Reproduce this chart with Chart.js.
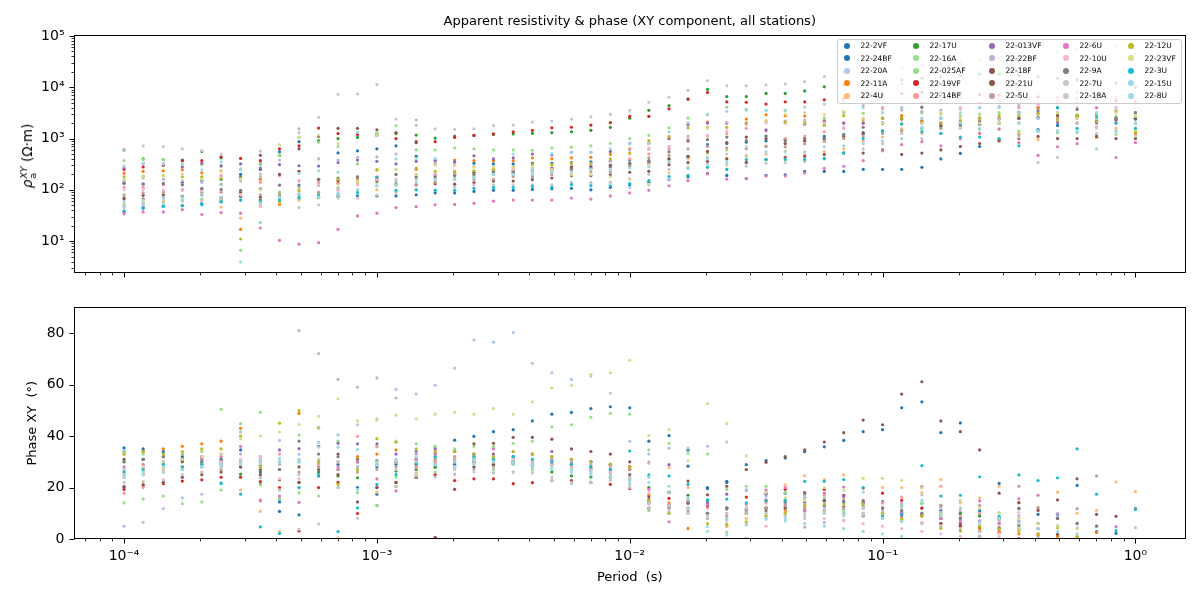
<!DOCTYPE html>
<html>
<head>
<meta charset="utf-8">
<script src="https://cdn.jsdelivr.net/npm/chart.js@4.4.1/dist/chart.umd.min.js"></script>
<style>
  html, body { margin: 0; padding: 0; background: #fff; }
  #wrap { position: relative; width: 1200px; height: 600px; font-family: "DejaVu Sans", sans-serif; color: #000; }
  canvas { position: absolute; left: 0; }
  #title { position: absolute; left: 73.5px; width: 1112.5px; top: 13px; text-align: center; font-size: 13px; line-height: 16px; }
  #rhoLabel { position: absolute; left: 28px; top: 156px; transform: translate(-50%, -50%) rotate(-90deg); white-space: nowrap; font-size: 13.5px; }
  #rhoLabel .ss { display: inline-block; vertical-align: middle; line-height: 9px; font-size: 9.5px; margin-left: 1px; }
  #rhoLabel .ss span { display: block; }
  #legend { position: absolute; left: 836.5px; top: 38.5px; width: 345px; height: 65px; box-sizing: border-box;
            border: 1px solid #cccccc; border-radius: 3px; background: rgba(255,255,255,0.8); font-size: 7.5px; }
  .item { position: absolute; white-space: nowrap; line-height: 9px; }
  .dot { position: absolute; width: 6px; height: 6px; border-radius: 50%; }
</style>
</head>
<body>
<div id="wrap">
  <canvas id="rhoChart" width="1200" height="290" style="top:0"></canvas>
  <canvas id="phaseChart" width="1200" height="310" style="top:290px"></canvas>
  <div id="title">Apparent resistivity &amp; phase (XY component, all stations)</div>
  <div id="rhoLabel"><i>ρ</i><span class="ss"><span><i>XY</i></span><span>a</span></span> (Ω·m)</div>
  <div id="legend"></div>
</div>
<script>
// periods (s), 13 per decade
const periods = [
  1.00e-4, 1.19e-4, 1.43e-4, 1.70e-4, 2.03e-4, 2.42e-4, 2.89e-4, 3.46e-4, 4.12e-4, 4.92e-4, 5.88e-4, 7.02e-4, 8.38e-4,
  1.00e-3, 1.19e-3, 1.43e-3, 1.70e-3, 2.03e-3, 2.42e-3, 2.89e-3, 3.46e-3, 4.12e-3, 4.92e-3, 5.88e-3, 7.02e-3, 8.38e-3,
  1.00e-2, 1.19e-2, 1.43e-2, 1.70e-2, 2.03e-2, 2.42e-2, 2.89e-2, 3.46e-2, 4.12e-2, 4.92e-2, 5.88e-2, 7.02e-2, 8.38e-2,
  1.00e-1, 1.19e-1, 1.43e-1, 1.70e-1, 2.03e-1, 2.42e-1, 2.89e-1, 3.46e-1, 4.12e-1, 4.92e-1, 5.88e-1, 7.02e-1, 8.38e-1,
  1.00
];

const stations = ["22-2VF", "22-24BF", "22-20A", "22-11A", "22-4U", "22-17U", "22-16A", "22-025AF", "22-19VF", "22-14BF",
  "22-013VF", "22-22BF", "22-18F", "22-21U", "22-5U", "22-6U", "22-10U", "22-9A", "22-7U", "22-18A",
  "22-12U", "22-23VF", "22-3U", "22-15U", "22-8U"];

// apparent resistivity (ohm.m), one array per station
const rho2VF = [37, 45, 48, 49, 54, 59, 63, 63, 63, 66, 71, 74, 76,
  76, 76, 80, 87, 87, 93, 98, 98, 102, 105, 107, 100, 112,
  126, 141, 158, 178, 209, 191, 166, 191, 195, 229, 229, 229, 251,
  251, 251, 275, 400, 513, 700, 955, 1200, 1500, 1800, 2000, 2200, 2400,
  2500];
const rho24BF = [135, 130, 132, 140, 150, 160, 200, 250, 550, 870, 125, 525, 575,
  630, 720, 450, 380, 350, 330, 320, 320, 330, 330, 340, 350, 360,
  380, 330, 400, 430, 760, 800, 850, 900, 950, 1000, 1100, 1200, 1300,
  1400, 1500, 1600, 1700, 1800, 1900, 950, 2000, 4000, 3000, 2800, 3000, 2400,
  2500];
const rho20A = [45, 50, 69, 72, 79, 72, 74, 570, 79, 83, 83, 83, 100,
  120, 140, 160, 160, 180, 180, 200, 200, 200, 125, 140, 140, 140,
  112, 125, 160, 265, 320, 320, 355, 1120, 1000, 1000, 1000, 1580, 2000,
  2500, 4000, 3200, 2500, 4000, 4000, 5000, 2500, 4000, 3200, 5000, 3200, 4000,
  3200];
const rho11A = [210, 230, 235, 245, 215, 235, 17, 160, 52, 230, 160, 135, 145,
  245, 125, 250, 320, 380, 370, 370, 370, 420, 400, 420, 430, 490,
  630, 800, 1000, 1950, 2100, 2000, 2400, 2900, 2800, 2750, 2250, 2000, 2000,
  2500, 2800, 2250, 2000, 2000, 2000, 950, 1250, 4000, 2800, 2800, 1050, 2400,
  1250];
const rho4U = [52, 56, 60, 63, 63, 46, 28, 50, 56, 63, 71, 79, 100,
  100, 125, 125, 140, 160, 180, 200, 200, 225, 225, 250, 250, 280,
  320, 320, 350, 400, 520, 410, 450, 500, 560, 490, 560, 630, 890,
  1070, 1550, 1260, 1820, 1660, 1260, 950, 1230, 950, 1320, 2000, 1050, 1580,
  1580];
const rho17U = [600, 400, 390, 380, 560, 420, 175, 320, 470, 1050, 910, 1000, 1050,
  1250, 1250, 1170, 1020, 1120, 1150, 1200, 1230, 1260, 1300, 1350, 1450, 1650,
  2500, 3550, 4400, 5900, 9100, 6600, 6600, 7600, 7600, 8500, 10200, 11000, 12000,
  13000, 14000, 15000, 16000, 17000, 18000, 18000, 17000, 16000, 15000, 14000, 13000, 12000,
  10000];
const rho16A = [370, 390, 390, 320, 310, 300, 250, 330, 470, 1050, 850, 700, 320,
  1260, 1780, 600, 600, 660, 630, 600, 600, 590, 660, 680, 720, 800,
  1000, 1150, 1620, 2500, 2900, 4100, 3700, 3500, 3500, 2100, 2500, 3200, 3100,
  6300, 4000, 3200, 3000, 2800, 3000, 3200, 3300, 3100, 3000, 2900, 2800, 2700,
  2600];
const rho025AF = [50, 55, 58, 62, 66, 126, 6.6, 23, 90, 110, 120, 110, 130,
  140, 150, 170, 180, 190, 200, 210, 220, 230, 240, 250, 260, 280,
  300, 350, 400, 450, 520, 600, 650, 700, 800, 900, 1000, 1100, 1200,
  1300, 1400, 1500, 1600, 1600, 1500, 1500, 1400, 1400, 1300, 1300, 1200, 1200,
  1100];
const rho19VF = [250, 280, 300, 370, 370, 440, 410, 370, 630, 720, 1600, 1250, 1200,
  1150, 1000, 870, 870, 1050, 1150, 1230, 1350, 1450, 1620, 1660, 1820, 2040,
  2700, 2700, 3800, 5900, 7900, 5200, 5100, 4700, 5200, 5200, 5700, 6000, 6500,
  7000, 7500, 8000, 7800, 7500, 7200, 7000, 6800, 6500, 6200, 6000, 5800, 5500,
  5200];
const rho14BF = [112, 112, 126, 126, 180, 190, 165, 140, 190, 150, 140, 135, 160,
  180, 200, 200, 200, 200, 225, 240, 225, 250, 250, 265, 280, 280,
  400, 500, 630, 890, 1120, 1260, 1580, 1410, 1000, 1120, 1350, 1580, 2000,
  4000, 11700, 5000, 5600, 6300, 5000, 5600, 4000, 5000, 6300, 7900, 7100, 6300,
  5000];
const rho013VF = [265, 330, 320, 280, 330, 290, 320, 265, 310, 295, 290, 340, 380,
  360, 320, 360, 370, 350, 460, 400, 420, 500, 480, 540, 540, 560,
  800, 800, 1000, 1850, 2000, 2000, 2000, 1480, 2100, 1900, 2150, 2000, 2000,
  2000, 2500, 2000, 2000, 2000, 2500, 2000, 2500, 2500, 2050, 2500, 2000, 2000,
  2000];
const rho22BF = [150, 170, 160, 150, 140, 130, 150, 180, 200, 1550, 400, 380, 430,
  440, 500, 2300, 330, 300, 290, 280, 280, 270, 270, 280, 290, 300,
  600, 620, 700, 1100, 1600, 2000, 1900, 2100, 2200, 2300, 2000, 3300, 4400,
  3800, 3600, 3400, 3600, 3800, 4000, 4200, 4400, 4600, 5000, 6000, 4000, 3500,
  2000];
const rho18F = [66, 78, 80, 100, 100, 63, 90, 470, 200, 630, 1100, 1580, 1580,
  1480, 1300, 830, 200, 210, 220, 230, 240, 250, 260, 280, 290, 300,
  330, 360, 400, 450, 560, 830, 1070, 1000, 800, 900, 1000, 1100, 1260,
  2000, 2400, 2100, 1800, 2000, 2200, 2400, 2500, 2600, 2800, 2700, 2150, 2300,
  2400];
const rho21U = [70, 66, 70, 75, 80, 70, 75, 72, 75, 230, 160, 150, 180,
  150, 130, 125, 132, 129, 138, 148, 148, 158, 170, 190, 190, 195,
  220, 230, 310, 340, 360, 400, 340, 390, 430, 450, 490, 520, 520,
  600, 490, 520, 600, 700, 800, 900, 1000, 1100, 1000, 1000, 1100, 1000,
  1000];
const rho5U = [80, 87, 90, 100, 90, 90, 80, 80, 83, 80, 90, 100, 180,
  160, 125, 125, 140, 160, 160, 160, 180, 180, 200, 200, 225, 225,
  280, 420, 470, 630, 710, 660, 630, 710, 690, 790, 890, 1000, 1120,
  1260, 1410, 2000, 1580, 2000, 2500, 2500, 3200, 3200, 2500, 2500, 1660, 2500,
  2000];
const rho6U = [34, 37, 37, 41, 33, 36, 35, 18, 10.3, 8.7, 9.3, 17, 31,
  35, 45, 47, 51, 52, 55, 60, 63, 63, 63, 69, 66, 76,
  87, 98, 120, 151, 204, 162, 166, 186, 186, 214, 263, 288, 372,
  575, 759, 871, 724, 1000, 1260, 1550, 832, 468, 692, 794, 3980, 427,
  832];
const rho10U = [100, 102, 100, 100, 98, 100, 80, 47, 63, 100, 125, 98, 125,
  160, 160, 200, 200, 200, 280, 250, 250, 250, 250, 320, 320, 350,
  500, 660, 710, 1000, 1170, 1400, 2000, 2000, 2000, 2000, 2000, 1650, 2500,
  3200, 4000, 4000, 3200, 4000, 4000, 6300, 3200, 4500, 5600, 4000, 1600, 4000,
  3200];
const rho9A = [135, 130, 132, 125, 107, 102, 98, 105, 123, 123, 160, 170, 175,
  175, 200, 180, 180, 190, 200, 225, 220, 230, 250, 250, 265, 280,
  320, 370, 550, 910, 950, 1070, 910, 1120, 910, 1000, 1000, 1170, 1660,
  2000, 2000, 4100, 2500, 2000, 2000, 2000, 3200, 3500, 4000, 3700, 2500, 2500,
  3200];
const rho7U = [620, 720, 700, 630, 580, 490, 260, 200, 380, 1300, 2600, 7300, 7400,
  11300, 2400, 1800, 1550, 1500, 1550, 1780, 1820, 2100, 2200, 2400, 2650, 2950,
  3550, 5100, 6400, 8700, 13500, 10700, 10700, 11200, 11700, 12900, 16200, 19000, 20000,
  22000, 24000, 26000, 28000, 30000, 33000, 36000, 40000, 45000, 50000, 55000, 60000, 66000,
  45000];
const rho18A = [49, 54, 56, 59, 59, 63, 63, 205, 63, 45, 51, 69, 69,
  79, 89, 100, 100, 112, 125, 125, 125, 125, 125, 132, 129, 141,
  166, 200, 250, 265, 430, 500, 290, 330, 340, 355, 400, 500, 630,
  790, 1260, 1000, 1260, 1580, 2400, 2300, 1070, 340, 430, 2000, 1260, 1410,
  1120];
const rho12U = [180, 185, 190, 180, 178, 165, 11, 60, 59, 95, 70, 160, 145,
  245, 250, 265, 230, 230, 235, 250, 280, 310, 310, 330, 330, 400,
  520, 910, 1100, 1600, 1650, 1650, 2000, 2250, 2100, 2000, 1800, 2800, 2300,
  2500, 2500, 2000, 2000, 2250, 2500, 2800, 2800, 3000, 2300, 2800, 2150, 3400,
  1350];
const rho23VF = [160, 185, 185, 200, 160, 235, 160, 100, 760, 1050, 1170, 800, 145,
  1150, 250, 200, 300, 300, 280, 280, 280, 280, 250, 200, 200, 180,
  160, 130, 215, 280, 1600, 300, 470, 2250, 3000, 3200, 2900, 3400, 2500,
  2000, 2000, 2000, 3200, 2500, 2000, 2000, 2000, 7900, 3200, 2500, 2500, 3200,
  2800];
const rho3U = [39, 43, 48, 49, 51, 58, 63, 59, 63, 71, 79, 83, 89,
  174, 98, 100, 98, 98, 107, 112, 112, 117, 112, 126, 120, 120,
  132, 151, 182, 191, 275, 250, 390, 390, 390, 390, 410, 525, 1000,
  1410, 1900, 1350, 1260, 1070, 1070, 1000, 720, 1410, 4000, 1580, 2630, 2000,
  1580];
const rho15U = [290, 330, 320, 320, 245, 350, 245, 55, 72, 210, 235, 220, 1320,
  120, 400, 410, 410, 160, 175, 200, 500, 250, 510, 540, 540, 630,
  790, 800, 1350, 2000, 3000, 3400, 3550, 3550, 3550, 4100, 4700, 5200, 4000,
  3200, 4000, 2500, 2500, 3200, 4000, 4100, 3200, 2500, 1400, 1350, 3200, 1400,
  2000];
const rho8U = [58, 63, 69, 72, 79, 72, 3.9, 23, 72, 83, 72, 83, 100,
  120, 125, 140, 160, 160, 175, 200, 200, 225, 225, 225, 250, 250,
  265, 280, 350, 265, 400, 350, 690, 550, 550, 550, 690, 720, 790,
  890, 1000, 1660, 2500, 2000, 1580, 4100, 2000, 1410, 1410, 1350, 630, 1410,
  2000];

// phase (degrees), one array per station; null = not shown
const ph2VF = [35.4, 34, 33, 32, 31, 30, 34.6, 28.7, 14.4, 9.4, 24.5, 27, 20,
  17.4, 30, 29, 30, 38.4, 39.9, 41.7, 42.5, 45.9, 48.5, 49.2, 50.7, 51.4,
  51, 38, 40.2, 34.6, 19.6, 22.4, 19, 17.8, 17.8, 16, 15, 14.5, 14,
  14.5, 13, 12, 11, 10, 9, 8, 7, 6, 5, null, null, null,
  null];
const ph24BF = [34, 35, 34, 33, 32, 31, 30, 26, 10.7, 30, 30, 29, 28,
  28, 29, 28, 28, 29, 30, 30, 30, 30, 31, 30, 30, 29,
  28, 14, 12, 28.3, 20, 22, 28.9, 30.5, 31.5, 33.9, 35.8, 38.3, 41.7,
  42.5, 51, 53.3, 41.3, 45.1, 11, 21.6, 11.8, 9.6, 9.6, 20.8, 2.9, 2.2,
  null];
const ph20A = [5, 6.5, 11.8, 16, 17.4, 22, 41.6, 30.5, 38.3, 32.9, 37.6, 40.5, 44.4,
  46.7, 58.2, 56.3, 59.7, 66.4, 77.3, 76.5, 80.2, 68.3, 64.6, 62, 63.3, 56.7,
  38, 33, 35.3, 35.3, 36, 37.7, 19, 16.3, 14, 15, 12, 11, 10,
  9, 12.3, 17.2, 10.4, 14.4, 7, 10.3, 8.1, 0.6, 8.5, 4.4, 5.1, null,
  4.4];
const ph11A = [33, 34, 35, 36, 37, 38, 43, 32, 30, 48.8, 43.3, 30, 32,
  33, 34.6, 33, 34, 34, 33, 33, 32, 33, 32, 31, 30, 29,
  28, 17, 14, 4.1, 8, 5, 10, 12, 11, 13, 11, 10, 9,
  8, 7.7, 9, 8, 5, 4, 3, 2, 1.5, 1, 0.5, 2.5, null,
  null];
const ph4U = [25, 26, 27, 28, 29, 30, 19, 10.7, 2.9, 20, 25, 0.4, 30,
  18.2, 30, 25.7, 30, 31, 32, 31, 31, 30, 29, 28, 27, 29,
  28, 29.4, 27.7, 20, 10, 5, 8, 10, 21, 24.6, 23.1, 24.9, 23.6,
  20, 20, 18, 23.1, 14, 16, 20.5, 14, 2, 18.2, 10, 11.1, 22.2,
  18.5];
const ph17U = [30, 31, 32, 31, 30, 29, 25.2, 21.2, 15.6, 22, 26, 24.5, 23.8,
  13, 26.4, 27, 27.9, 28, 29.8, 28.7, 29.4, 28.3, 26, 24.5, 24.1, 24,
  23, 20, 18, 17, 15, 11.7, 11.3, 12, 12, 11, 11, 10, 9,
  8, 7, 13.9, 13.1, 10, 9, 8, 4, null, null, null, null, null,
  null];
const ph16A = [34, 33, 32, 33, 34, 50.4, 44.8, 49.2, 30, 40.4, 43, 38, 30,
  36, 38, 37, 36, 35, 36, 36, 37.2, 38, 43.6, 44.4, 47.3, 48.8,
  48.5, 34.6, 37.2, 33.4, 33, 19.3, 20.5, 20.5, 18, 17, 16, 11.3, 15,
  14, 13, 12, 10, 8, 6.9, 6, 5, null, null, null, null, null,
  null];
const ph025AF = [14, 15.5, 16.7, 13.7, 14.4, 19, 24, 21, 15.6, 17.9, 16.7, 20, 18,
  13, 24, 25, 26, 27, 28, 27, 26, 27, 27, 27, 26, 25,
  24, 11, 10, 12, 10, 2.7, 11.3, 12.2, 10, 11, 10, 11.3, 10,
  12, 10, 13.9, 13.1, 8, 6.9, null, 4, null, null, null, null, null,
  null];
const ph19VF = [19.3, 21, 21.5, 22.5, 23, 24, 24, 22.3, 20, 3.1, 20, 22, 9.9,
  20, 22, 24, 24.9, 22.7, 23.4, 23.4, 21.5, 21.9, 22.7, 22.7, 22, 21.2,
  19.6, 15.2, 15.8, 14, 13, 12, 16.3, 15, 19.3, 18, 19.3, 17, 19.8,
  17.8, 15, 12, 6, 5, 3, 2.5, 0.2, null, null, null, null, null,
  null];
const ph14BF = [17.8, 20, 22, 24, 26, 28, 30, 15.2, 33, 31, 29, 27, 39.9,
  35.8, 30, 27.9, 30, 31, 32, 31, 30, 30, 29, 28, 27, 26,
  25, 14, 13.6, 10.2, 12, 10, 13.3, 14, 15, 16, 17, 16, 15,
  14, 16.3, 6.4, 20.5, 8.9, 10, 2.5, null, null, null, null, null, null,
  null];
const ph013VF = [20.5, 28, 30, 31, 32, 33, 30, 30, 34.6, 35.1, 30, 37.2, 37,
  37, 33, 34, 35, 34, 33, 33, 32, 33, 34, 31, 30, 29,
  28, 14, 28.9, 15, 14, 17.4, 10, 17.4, 13, 17.8, 15, 16.7, 12,
  10, 9, 9.4, 8, 0, 7, null, null, null, null, 0, null, null,
  null];
const ph22BF = [26, 27, 28, 27, 29, 30, 33, 31, 29, 81, 72, 62, 59,
  62.6, 54.8, 33, 32, 25.2, 27, 28, 29, 30, 31, 30, 29, 28,
  27, 30, 12, 15, 10, 12, 0.3, 9, 12, 4.6, 6.4, 7.2, 9.1,
  11, 14, 10, 12, 11, 7, 7.3, 9, 12, 10, 0, null, null,
  null];
const ph18F = [31, 31, 30, 30, 29, 29, 28, 27, 27, 28, 36, 33, 30,
  29, 30, 31, 33, 34, 37, 37.2, 39.5, 39.5, 38.8, 35, 34, 33,
  30, 16.3, 18.2, 22.5, 17.2, 20.5, 27, 29.8, 32, 34.6, 37.7, 41.3, 46.2,
  44.4, 56.3, 61.1, 45.9, 41.7, 34.6, 17.8, 14.1, 11.1, 15.2, 23.4, 9.6, 8.8,
  11.8];
const ph21U = [20, 21, 22, 24, 25, 26, 28, 25, 23, 22, 27, 25, 14.4,
  20, 22, 24, 0.6, 19.3, 28, 29, 30, 30, 29, 28, 27, 26,
  27, 12, 13, 14, 13, 12, 11.3, 12, 12.1, 11, 14.8, 12.5, 14,
  12, 10, 9, 6, 6, 4.8, 4.4, 5.5, null, 1.8, null, null, null,
  null];
const ph5U = [24, 25, 26, 27, 28, 27, 30, 28, 27, 26, 28, 27, 26,
  27, 28, 30, 31, 32, 31, 30, 29, 28, 29, 28, 27, 26,
  27, 14, 12, 11, 10, 9, 11, 12, 13, 12, 11, 12, 13,
  12, 11, 20.5, 13, 12, 13.1, 6.2, 20.5, 12.2, 8, 11.8, 24.5, null,
  null];
const ph6U = [28, 29, 30, 31, 31, 32, 36, 14.8, 16.7, 14.2, 30, 28, 30,
  23.4, 18.7, 31, 33, 34, 33, 35, 34, 33, 32, 31, 30, 29,
  28, 19.3, 6.7, 10, 13.3, 12, 12, 19, 20, 10.9, 17.8, 20.2, 14,
  12, 10, 20, 8, 7, 14.8, 6, 15.6, 17, 8, 6.2, null, 4.8,
  null];
const ph10U = [27, 28, 29, 28, 29, 30, 31, 32, 23.4, 23.4, 30, 30, 31,
  30, 31, 30, 29, 30, 31, 32, 31, 30, 29, 28, 27, 26,
  24, 18, 10, 12, 8, 7, 6, 5, 10.2, 9, 8, 7, 6,
  5, 4, 3, 2, 1, 0.5, 1, 10.3, 2.1, null, null, null, null,
  null];
const ph9A = [30, 31, 32, 31, 30, 31, 30, 23.8, 27, 38, 33, 32, 31,
  30.5, 20.5, 30, 29, 30, 31, 30, 30, 29, 30, 29, 28, 27,
  25, 12, 13, 13.9, 10, 12, 9.9, 11, 14.3, 14.3, 13, 14.8, 14.8,
  12, 11, 10, 9, 8, 1.1, 4, 12, 4, 8, 6, 5, null,
  null];
const ph7U = [22, 22.3, 23, 25, 26, 28, 30, 23.8, 19, 3.8, 5.9, 20, 8.1,
  0, 20.5, 24.5, 24.1, 27.1, 26, 25.7, 26, 25.7, 24, 21.5, 21.9, 22.7,
  20, 14, 13, 12, 8, 10, 12, 8, 9, 10, 11, 9, 10,
  8, 7, 6, 5, 4, 3, 0.2, 7.3, null, null, null, null, null,
  null];
const ph18A = [27, 28, 26, 27, 28, 29, 30, 29, 19, 25, 31, 30, 28,
  29, 27, 30, 29, 28, 30, 25.7, 26, 25.7, 22.7, 22, 25, 23,
  21, 12, 11, 10, 9, 8, 9.9, 10, 9, 8, 10, 10, 12,
  10, 8, 6, 5, 3, 1.1, null, 4, null, null, null, null, null,
  null];
const ph12U = [33, 34, 33, 34, 35, 35, 40, 28, 45, 49.9, 30, 21.2, 27,
  39, 37.6, 35, 34, 34, 33, 32, 34, 33, 32, 31, 30, 29,
  28, 15, 10, 12, 6, 5.7, 6.7, 8.9, 10, 13.1, 13.6, 13.6, 13.6,
  10, 8, 9, 4.1, 3.3, 5, 4, 3, 2, 4.4, 1.1, null, null,
  null];
const ph23VF = [26, 28, 30, 31, 32, 33, 39, 40, 41.6, 44.5, 47.7, 54.5, 45.9,
  46.2, 48.1, 46.7, 48.5, 49.2, 48.5, 50.7, 48.5, 53.3, 58.6, 59.7, 64, 64.6,
  69.5, 40.2, 42.5, 30.5, 52.6, 44.8, 32.3, 18, 16, 15, 20, 19, 23.6,
  23.6, 22.8, 20, 0, 15, 12, 10, 8, 6, 5, 4, null, null,
  null];
const ph3U = [26, 27, 29, 28, 29, 21.5, 17.4, 4.7, 2.1, 20, 25, 2.9, 12.1,
  21.2, 25, 29.4, 31.9, 30, 32, 31, 32, 31, 30, 29, 28, 27,
  34.2, 24.9, 24.5, 21.2, 15.2, 15.5, 14, 14.8, 15, 22.4, 22.4, 23.1, 20,
  8.9, 9.6, 28.5, 16.7, 17, 24.2, 8.8, 24.9, 22.7, 23.8, 35, 17.4, 3.3,
  11.5];
const ph15U = [25, 26, 28, 27, 28, 29, 30, 30.5, 31.3, 30, 37.6, 40.5, 34.7,
  28.7, 30, 32, 28.9, 30, 31, 30, 30, 29, 28, 27, 26, 24.1,
  23, 24, 20.5, 15.8, 4.8, 7.6, 5.5, 7.7, 8, 16.3, 10.2, 10.2, 18.2,
  8, 7, 15, 9, 12, 6, 8, 6, 4, 3, 2, null, null,
  null];
const ph8U = [24, 25, 26, 27, 28, 28, 29, 30, 30, 31, 35.7, 35.7, 19.3,
  30, 31, 30, 29, 28, 29, 30, 29, 28, 27, 26, 25, 24,
  22, 22, 18, 12, 3, 1.6, 5.5, 8, 7, 6, 5, 4, 3,
  2, 1, null, null, null, null, null, null, null, null, null, null, null,
  null];

const rhoSeries = [rho2VF, rho24BF, rho20A, rho11A, rho4U, rho17U, rho16A, rho025AF, rho19VF, rho14BF,
  rho013VF, rho22BF, rho18F, rho21U, rho5U, rho6U, rho10U, rho9A, rho7U, rho18A,
  rho12U, rho23VF, rho3U, rho15U, rho8U];
const phaseSeries = [ph2VF, ph24BF, ph20A, ph11A, ph4U, ph17U, ph16A, ph025AF, ph19VF, ph14BF,
  ph013VF, ph22BF, ph18F, ph21U, ph5U, ph6U, ph10U, ph9A, ph7U, ph18A,
  ph12U, ph23VF, ph3U, ph15U, ph8U];

// axis ticks
const periodTicks = [1e-4, 1e-3, 1e-2, 1e-1, 1];
const periodTickLabels = ["10⁻⁴", "10⁻³", "10⁻²", "10⁻¹", "10⁰"];
const rhoTicks = [10, 100, 1000, 10000, 100000];
const rhoTickLabels = ["10¹", "10²", "10³", "10⁴", "10⁵"];
const phaseTicks = [0, 20, 40, 60, 80];
const phaseTickLabels = ["0", "20", "40", "60", "80"];

const stationColors = ["#1f77b4", "#1f77b4", "#aec7e8", "#ff7f0e", "#ffbb78", "#2ca02c", "#98df8a", "#98df8a",
  "#d62728", "#ff9896", "#9467bd", "#c5b0d5", "#8c564b", "#8c564b", "#c49c94", "#e377c2", "#f7b6d2",
  "#7f7f7f", "#c7c7c7", "#c7c7c7", "#bcbd22", "#dbdb8d", "#17becf", "#9edae5", "#9edae5"];

Chart.defaults.font.family = "'DejaVu Sans', sans-serif";
Chart.defaults.color = "#000";

const noGrid = { display: false, drawTicks: false, tickLength: 0 };

function logTicks(min, max) {
  const out = [];
  for (let e = Math.floor(Math.log10(min)); e <= Math.ceil(Math.log10(max)); e++) {
    for (let m = 1; m <= 9; m++) {
      const v = m * Math.pow(10, e);
      if (v >= min && v <= max) out.push({ v, major: m === 1 });
    }
  }
  return out;
}

// matplotlib-like box with outward major/minor ticks
const axesFrame = {
  id: "axesFrame",
  afterDraw(chart) {
    const { ctx, chartArea: a } = chart;
    const xs = chart.scales.x, ys = chart.scales.y;
    const L = Math.round(a.left) + 0.5, R = Math.round(a.right) - 0.5;
    const T = Math.round(a.top) + 0.5, B = Math.round(a.bottom) - 0.5;
    const yt = ys.type === "logarithmic" ? logTicks(ys.min, ys.max) : phaseTicks.map(v => ({ v, major: true }));
    const xt = logTicks(xs.min, xs.max);
    ctx.save();
    ctx.strokeStyle = "#000";
    [true, false].forEach(major => {
      ctx.beginPath();
      ctx.lineWidth = major ? 1 : 0.8;
      xt.filter(t => t.major === major).forEach(t => {
        const px = Math.round(xs.getPixelForValue(t.v)) + 0.5;
        ctx.moveTo(px, B);
        ctx.lineTo(px, B + (major ? 5 : 3));
      });
      yt.filter(t => t.major === major).forEach(t => {
        const py = Math.round(ys.getPixelForValue(t.v)) + 0.5;
        ctx.moveTo(L, py);
        ctx.lineTo(L - (major ? 5 : 3), py);
      });
      ctx.stroke();
    });
    ctx.lineWidth = 1;
    ctx.strokeRect(L, T, R - L, B - T);
    ctx.restore();
  }
};

function datasetsFor(series) {
  return series.map((values, i) => {
    const pts = [];
    values.forEach((v, k) => { if (v !== null) pts.push({ x: periods[k], y: v }); });
    return {
      label: stations[i],
      data: pts,
      backgroundColor: stationColors[i],
      borderWidth: 0,
      pointRadius: 1.6,
      pointStyle: "circle",
      order: series.length - 1 - i
    };
  });
}

function xAxis(showLabels, height) {
  return {
    type: "logarithmic",
    min: 6.31e-5,
    max: 1.585,
    grid: noGrid,
    border: { display: false },
    ticks: {
      display: showLabels,
      padding: 9,
      font: { size: 14 },
      maxRotation: 0,
      autoSkip: false,
      callback: (v, i) => periodTickLabels[i]
    },
    title: { display: showLabels, text: "Period  (s)", font: { size: 13 }, padding: { top: 0, bottom: 15 } },
    afterBuildTicks: s => { s.ticks = periodTicks.map(v => ({ value: v })); },
    afterFit: s => { s.height = height; }
  };
}

new Chart(document.getElementById("rhoChart"), {
  type: "scatter",
  data: { datasets: datasetsFor(rhoSeries) },
  options: {
    responsive: false,
    animation: false,
    events: [],
    layout: { padding: { top: 34.5, right: 14, left: 0, bottom: 0 } },
    plugins: { legend: { display: false }, tooltip: { enabled: false } },
    scales: {
      x: xAxis(false, 14),
      y: {
        type: "logarithmic",
        min: 2.43,
        max: 1.07e5,
        grid: noGrid,
        border: { display: false },
        ticks: { padding: 9, font: { size: 14 }, autoSkip: false, callback: (v, i) => rhoTickLabels[i] },
        afterBuildTicks: s => { s.ticks = rhoTicks.map(v => ({ value: v })); },
        afterFit: s => { s.width = 73.5; }
      }
    }
  },
  plugins: [axesFrame]
});

new Chart(document.getElementById("phaseChart"), {
  type: "scatter",
  data: { datasets: datasetsFor(phaseSeries) },
  options: {
    responsive: false,
    animation: false,
    events: [],
    layout: { padding: { top: 7, right: 14, left: 0, bottom: 0 } },
    plugins: { legend: { display: false }, tooltip: { enabled: false } },
    scales: {
      x: xAxis(true, 61),
      y: {
        type: "linear",
        min: 0,
        max: 90,
        grid: noGrid,
        border: { display: false },
        ticks: { padding: 9, font: { size: 14 }, autoSkip: false, callback: (v, i) => phaseTickLabels[i] },
        title: { display: true, text: "Phase XY  (°)", font: { size: 13 }, padding: { top: 25, bottom: 0 } },
        afterBuildTicks: s => { s.ticks = phaseTicks.map(v => ({ value: v })); },
        afterFit: s => { s.width = 73.5; }
      }
    }
  },
  plugins: [axesFrame]
});

// legend: 5 columns x 5 rows, column-major like matplotlib
const legend = document.getElementById("legend");
const legendColX = [10, 79, 155, 229, 294];
const legendRowY = [7.2, 19.6, 32.2, 44.8, 57.4];
stations.forEach((name, i) => {
  const col = Math.floor(i / 5), row = i % 5;
  const dot = document.createElement("div");
  dot.className = "dot";
  dot.style.background = stationColors[i];
  dot.style.left = (legendColX[col] - 3 - 1) + "px";
  dot.style.top = (legendRowY[row] - 3 - 1) + "px";
  legend.appendChild(dot);
  const item = document.createElement("div");
  item.className = "item";
  item.textContent = name;
  item.style.left = (legendColX[col] + 14 - 1) + "px";
  item.style.top = (legendRowY[row] - 4.5 - 1) + "px";
  legend.appendChild(item);
});
</script>
</body>
</html>
